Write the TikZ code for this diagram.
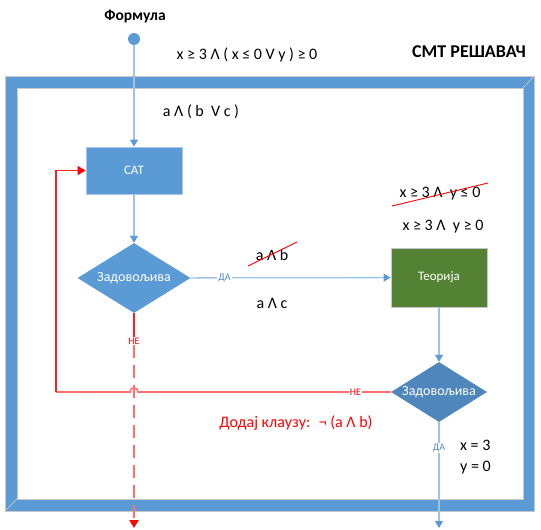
\documentclass[tikz,border=0pt]{standalone}
\usepackage{fontspec}
\setmainfont{Carlito}
\usetikzlibrary{shapes.geometric,arrows.meta}
\definecolor{obl}{HTML}{5B9BD5}
\definecolor{obld}{HTML}{4F86BC}
\definecolor{ogr}{HTML}{548235}
\definecolor{conn}{HTML}{9DC3E6}
\definecolor{lred}{HTML}{FF6F6F}
\definecolor{dred}{HTML}{FF2020}
\definecolor{framegray}{HTML}{C8C8C8}
\tikzset{
  lbl/.style={font=\fontsize{16}{18}\selectfont, inner sep=1pt},
  boxnode/.style={rectangle, text=white, font=\fontsize{13}{15}\selectfont, inner sep=0pt},
  dianode/.style={diamond, shape aspect=1.6, text=white, font=\fontsize{14}{16}\selectfont, inner sep=0pt},
  bconn/.style={conn, line width=1.3pt, -{Triangle[length=7pt,width=8pt,fill=obl,color=obl]}},
  smallblue/.style={font=\fontsize{10}{12}\selectfont, text=obld, fill=white, inner sep=1pt},
  smallred/.style={font=\fontsize{10}{12}\selectfont, text=red, fill=white, inner sep=1pt},
  strike/.style={red, line width=0.9pt}
}
\begin{document}
\begin{tikzpicture}[x=1pt,y=-1pt]
\useasboundingbox (0,0) rectangle (541,530);
% frame
\fill[obl, even odd rule] (5,76) rectangle (534,511) (17,88) rectangle (523,499);
\draw[framegray, line width=0.7pt] (5,76) rectangle (534,511);
\draw[framegray, line width=0.7pt] (17,88) rectangle (523,499);
\draw[framegray, line width=0.7pt] (534,76) -- (523,88);
\draw[framegray, line width=0.7pt] (5,511) -- (17,499);
% texts
\node[font=\bfseries\fontsize{15.5}{17}\selectfont] (flab) at (135,16) {Формула};
\node[font=\bfseries\fontsize{18}{20}\selectfont] (title) at (469,52) {СМТ РЕШАВАЧ};
\node[lbl] (f1) at (247,55) {x ≥ 3 Λ ( x ≤ 0 V y ) ≥ 0};
\node[lbl] (f2) at (201,112) {a Λ ( b \ V c )};
\node[lbl] (ab) at (272,255) {a Λ b};
\node[lbl] (ac) at (272,303) {a Λ c};
\node[lbl] (xy1) at (440,194) {x ≥ 3 Λ \ y ≤ 0};
\node[lbl] (xy2) at (443,227) {x ≥ 3 Λ \ y ≥ 0};
\node[lbl, text=red] (clause) at (296,423) {Додај клаузу: \ ¬ (a Λ b)};
\node[lbl, anchor=west] (x3) at (459,445) {x = 3};
\node[lbl, anchor=west] (y0) at (459,468) {y = 0};
% strikes
\draw[strike] (248,266) -- (297,242);
\draw[strike] (392,206) -- (488,183);
% shapes
\node[circle, fill=obl, minimum size=12pt, inner sep=0pt] (start) at (134,39) {};
\node[boxnode, fill=obl, draw=obl!55!white, line width=0.8pt, minimum width=96pt, minimum height=47pt] (sat) at (134,170.5) {САТ};
\node[dianode, fill=obl, minimum width=113pt, minimum height=70pt] (d1) at (134,278) {Задовољива};
\node[boxnode, fill=ogr, draw=framegray, line width=0.8pt, minimum width=96pt, minimum height=59pt] (th) at (439,277.5) {Теорија};
\node[dianode, fill=obld, minimum width=96pt, minimum height=60pt] (d2) at (439,392) {Задовољива};
\coordinate (e1) at (134,528);
\coordinate (e2) at (439,528);
\coordinate (lc) at (56,392);
% blue connectors
\draw[bconn] (start) -- (sat);
\draw[bconn] (sat) -- (d1);
\draw[bconn] (d1) -- node[smallblue, pos=0.17] (da1) {ДА} (th);
\draw[bconn] (th) -- (d2);
\draw[bconn] (d2) -- node[smallblue, pos=0.24] (da2) {ДА} (e2);
% red connectors
\node[smallred] (ne1) at (134,341) {НЕ};
\draw[dred, line width=2pt] (d1.south) -- (ne1.north);
\draw[lred, line width=2pt, dash pattern=on 13pt off 7pt, -{Triangle[length=8pt,width=9pt,fill=red,color=red]}] (ne1.south) -- (e1);
\draw[lred, line width=1.6pt] (d2.west) -- node[smallred, pos=0.14] (ne2) {НЕ} (138,392) .. controls (138,386.5) and (130,386.5) .. (130,392) -- (lc);
\draw[dred, line width=1.3pt, -{Triangle[length=8pt,width=9pt,fill=red,color=red]}] (lc) |- (sat.west);
\end{tikzpicture}
\end{document}
